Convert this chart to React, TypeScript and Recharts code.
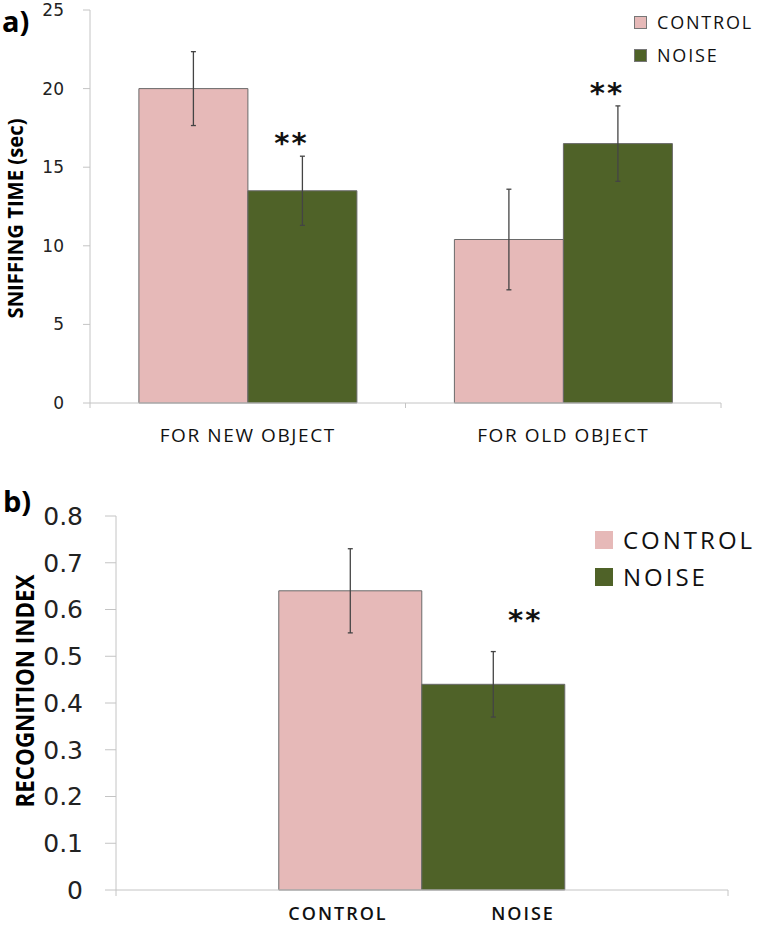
import React from "react";
import { BarChart, Bar, XAxis, YAxis, ErrorBar, LabelList } from "recharts";

// panel a: sniffing time
const objectCategories = ["FOR NEW OBJECT", "FOR OLD OBJECT"];
const sniffControl = [20, 10.4];
const sniffControlErr = [2.35, 3.2];
const sniffNoise = [13.5, 16.5];
const sniffNoiseErr = [2.2, 2.4];
const sniffSig = ["**", "**"];
const sniffTicks = [0, 5, 10, 15, 20, 25];

// panel b: recognition index
const recogGroups = ["CONTROL", "NOISE"];
const recogControl = [0.64];
const recogControlErr = [0.09];
const recogNoise = [0.44];
const recogNoiseErr = [0.07];
const recogSig = ["**"];
const recogTicks = [0, 0.1, 0.2, 0.3, 0.4, 0.5, 0.6, 0.7, 0.8];

const seriesNames = ["CONTROL", "NOISE"];
const PINK = "#E6B9B8";
const GREEN = "#4F6228";
const AXIS = "#c4c4c4";
const BAR_EDGE = "#6a6a6a";
const ERR = "#444";
const SANS = "'Open Sans', sans-serif";

const sniffData = objectCategories.map((name, i) => ({
  name,
  control: sniffControl[i],
  controlErr: sniffControlErr[i],
  noise: sniffNoise[i],
  noiseErr: sniffNoiseErr[i],
  sig: sniffSig[i],
}));

const recogData = recogControl.map((c, i) => ({
  name: "",
  control: c,
  controlErr: recogControlErr[i],
  noise: recogNoise[i],
  noiseErr: recogNoiseErr[i],
  sig: recogSig[i],
}));

// stars sit above the error bar cap
const starLabel = (vals: number[], errs: number[], dx: number, dy: number) => (p: any) => {
  const { x, y, width, height, value, index } = p;
  if (!value) return null;
  const errPx = (errs[index] * height) / vals[index];
  const cx = x + width / 2 + dx;
  const cy = y - errPx - dy;
  return (
    <text x={cx} y={cy + 15} textAnchor="middle" fontSize={29} fontWeight={700} fontFamily="DejaVu Sans" letterSpacing={2} fill="#111">
      {value}
    </text>
  );
};

// condensed bold axis title
const yTitle = (text: string, dx: number, dy: number, size: number, len: number) => (p: any) => {
  const vb = p.viewBox || { x: 0, y: 0, width: 0, height: 0 };
  const cx = vb.x + dx;
  const cy = vb.y + vb.height / 2 + dy;
  return (
    <text
      x={cx}
      y={cy}
      transform={`rotate(-90 ${cx} ${cy})`}
      textAnchor="middle"
      dominantBaseline="central"
      fontSize={size}
      fontWeight={700}
      fontFamily={SANS}
      textLength={len}
      lengthAdjust="spacingAndGlyphs"
      fill="#000"
    >
      {text}
    </text>
  );
};

function SniffTick(props: any) {
  const { x, y, payload } = props;
  const half = payload?.offset ?? 157.75;
  return (
    <g>
      <line x1={x - half} x2={x - half} y1={y} y2={y + 5} stroke={AXIS} />
      <line x1={x + half} x2={x + half} y1={y} y2={y + 5} stroke={AXIS} />
      <text x={x} y={y + 39} textAnchor="middle" fontSize={19} letterSpacing={1.6} fontFamily={SANS} fill="#111">
        {payload.value}
      </text>
    </g>
  );
}

const recogLabelDx = [-84, 101];

function RecogTick(props: any) {
  const { x, y, payload } = props;
  const half = payload?.offset ?? 306;
  return (
    <g>
      <line x1={x - half} x2={x - half} y1={y} y2={y + 6} stroke={AXIS} />
      <line x1={x + half} x2={x + half} y1={y} y2={y + 6} stroke={AXIS} />
      {recogGroups.map((g, i) => (
        <text key={g} x={x + recogLabelDx[i]} y={y + 30} textAnchor="middle" fontSize={18} fontWeight={600} letterSpacing={2} fontFamily={SANS} fill="#111">
          {g}
        </text>
      ))}
    </g>
  );
}

function LegendBox({ left, top, box, row, size, spacing, border }: any) {
  const colors = [PINK, GREEN];
  return (
    <div style={{ position: "absolute", left, top, fontFamily: SANS }}>
      {seriesNames.map((n, i) => (
        <div key={n} style={{ display: "flex", alignItems: "center", height: row }}>
          <span style={{ width: box, height: box, background: colors[i], boxSizing: "border-box", border: border ? "1px solid #777" : "none", display: "inline-block" }} />
          <span style={{ marginLeft: 10, fontSize: size, letterSpacing: spacing, color: "#111", lineHeight: 1 }}>{n}</span>
        </div>
      ))}
    </div>
  );
}

export default function App() {
  return (
    <div style={{ position: "absolute", left: 0, top: 0, width: 760, height: 930, background: "#fff", fontFamily: SANS }}>
      <div style={{ position: "absolute", left: 2, top: 6, fontSize: 29, fontWeight: 700, fontFamily: SANS, lineHeight: 1 }}>a)</div>
      <div style={{ position: "absolute", left: 3, top: 486, fontSize: 29, fontWeight: 700, fontFamily: SANS, lineHeight: 1 }}>b)</div>

      <div style={{ position: "absolute", left: 0, top: 0 }}>
        <BarChart width={760} height={460} data={sniffData} margin={{ top: 10, right: 39, bottom: 17, left: 0 }} barCategoryGap="15.5%" barGap={0}>
          <XAxis dataKey="name" height={40} tickSize={0} tickMargin={0} tickLine={false} axisLine={{ stroke: AXIS }} tick={<SniffTick />} interval={0} />
          <YAxis
            width={90}
            domain={[0, 25]}
            ticks={sniffTicks}
            interval={0}
            tickSize={7}
            tickMargin={19}
            axisLine={{ stroke: AXIS }}
            tickLine={{ stroke: AXIS }}
            tick={{ fontSize: 17, fontFamily: "DejaVu Sans", fill: "#222" }}
            label={{ content: yTitle("SNIFFING TIME (sec)", 15, 12, 21, 200) }}
          />
          <Bar dataKey="control" name="CONTROL" fill={PINK} stroke={BAR_EDGE} strokeWidth={1} isAnimationActive={false}>
            <ErrorBar dataKey="controlErr" width={2.5} stroke={ERR} strokeWidth={1.3} direction="y" />
          </Bar>
          <Bar dataKey="noise" name="NOISE" fill={GREEN} stroke={BAR_EDGE} strokeWidth={1} isAnimationActive={false}>
            <ErrorBar dataKey="noiseErr" width={2.5} stroke={ERR} strokeWidth={1.3} direction="y" />
            <LabelList dataKey="sig" content={starLabel(sniffNoise, sniffNoiseErr, -11, 18)} />
          </Bar>
        </BarChart>
      </div>
      <LegendBox left={634} top={5.5} box={13} row={33} size={18} spacing={1.8} border />

      <div style={{ position: "absolute", left: 0, top: 460 }}>
        <BarChart width={760} height={470} data={recogData} margin={{ top: 56, right: 32, bottom: 0, left: 0 }} barCategoryGap="26.6%" barGap={0}>
          <XAxis dataKey="name" height={40} tickSize={0} tickMargin={0} tickLine={false} axisLine={{ stroke: AXIS }} tick={<RecogTick />} interval={0} />
          <YAxis
            width={116}
            domain={[0, 0.8]}
            ticks={recogTicks}
            interval={0}
            tickSize={11}
            tickMargin={22}
            axisLine={{ stroke: AXIS }}
            tickLine={{ stroke: AXIS }}
            tickFormatter={(v: number) => String(v)}
            tick={{ fontSize: 25, fontFamily: "DejaVu Sans", fill: "#222" }}
            label={{ content: yTitle("RECOGNITION INDEX", 24, -12, 25, 233) }}
          />
          <Bar dataKey="control" name="CONTROL" fill={PINK} stroke={BAR_EDGE} strokeWidth={1} isAnimationActive={false}>
            <ErrorBar dataKey="controlErr" width={2.5} stroke={ERR} strokeWidth={1.3} direction="y" />
          </Bar>
          <Bar dataKey="noise" name="NOISE" fill={GREEN} stroke={BAR_EDGE} strokeWidth={1} isAnimationActive={false}>
            <ErrorBar dataKey="noiseErr" width={2.5} stroke={ERR} strokeWidth={1.3} direction="y" />
            <LabelList dataKey="sig" content={starLabel(recogNoise, recogNoiseErr, 32, 37)} />
          </Bar>
        </BarChart>
      </div>
      <LegendBox left={595} top={521.5} box={18} row={37} size={24} spacing={3} border={false} />
    </div>
  );
}
